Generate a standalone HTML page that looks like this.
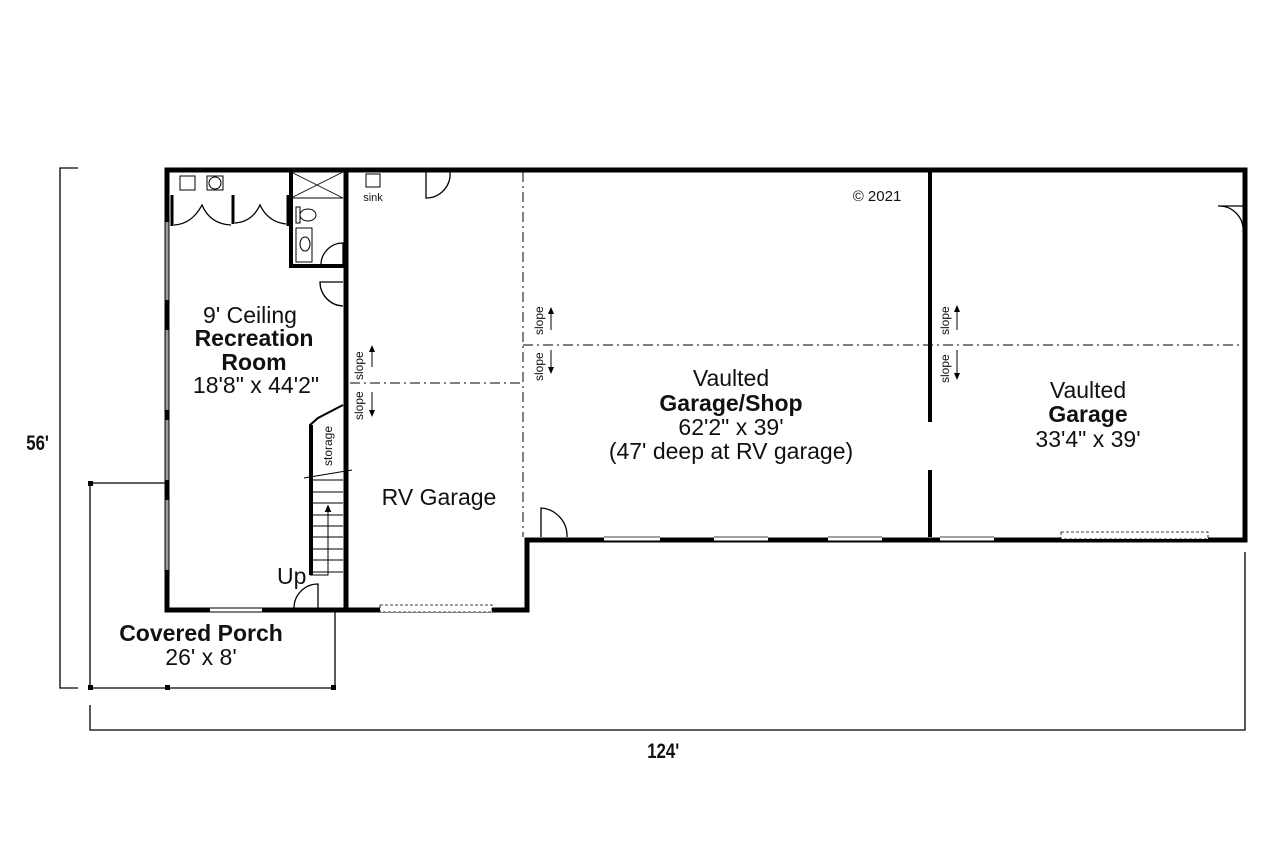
<!DOCTYPE html>
<html><head><meta charset="utf-8"><style>
html,body{margin:0;padding:0;background:#fff;}
svg{display:block;}
text{font-family:"Liberation Sans",sans-serif;fill:#111;}
</style></head><body>
<svg width="1280" height="853" viewBox="0 0 1280 853" xmlns="http://www.w3.org/2000/svg">
<g stroke="#000" fill="none">
<path d="M78 168 H60 V688 H78" stroke-width="1.3"/>
<path d="M90 705 V730 H1245 V552" stroke-width="1.3"/>
<path d="M90 483 H165 M90 483 V688 H335 V612" stroke-width="1.3"/>
<path d="M167 170 H1245 V540 H527 V610 H167 Z" stroke-width="5"/>
<path d="M346 170 V610" stroke-width="5"/>
<path d="M930 170 V422 M930 470 V537" stroke-width="4"/>
<path d="M291 170 V266 H346" stroke-width="4"/>
<path d="M291 198 H343" stroke-width="1"/>
<path d="M291 172 L343 198 M343 172 L291 198" stroke-width="0.8"/>
<path d="M523 172 V537" stroke-width="1" stroke-dasharray="10,4,2,4"/>
<path d="M350 383 H523" stroke-width="1" stroke-dasharray="10,4,2,4"/>
<path d="M523 345 H1243" stroke-width="1" stroke-dasharray="10,4,2,4"/>
<g stroke="#fff" stroke-width="3">
<path d="M210 610 H262 M604 539 H660 M714 539 H768 M828 539 H882 M940 539 H994"/>
</g>
<path d="M210 608 H262 M210 612 H262 M604 537 H660 M604 541 H660 M714 537 H768 M714 541 H768 M828 537 H882 M828 541 H882 M940 537 H994 M940 541 H994" stroke-width="0.8"/>
<rect x="380" y="605" width="112" height="7" fill="#fff" stroke-width="0.8" stroke-dasharray="3,2"/>
<rect x="1061" y="532" width="147" height="7" fill="#fff" stroke-width="0.8" stroke-dasharray="3,2"/>
<g stroke="#999" stroke-width="3"><path d="M167 222 V300 M167 330 V410 M167 420 V480 M167 500 V570"/></g>
<g stroke-width="1.3">
<path d="M426 172 V198 A24 24 0 0 0 450 172"/>
<path d="M343 282 H320 A24 24 0 0 0 343 306"/>
<path d="M318 610 V584 A24 24 0 0 0 294 608"/>
<path d="M541 537 V508 A28 28 0 0 1 567 537"/>
<path d="M1243 206 H1218 A24 24 0 0 1 1243 232"/>
<path d="M343 266 V243 A22 22 0 0 0 321 266"/>
</g>
<g stroke-width="3"><path d="M172 195 V226 M233 195 V224 M288 195 V226"/></g>
<g stroke-width="1.3">
<path d="M174 225 Q192 224 202 205 Q210 224 231 225"/>
<path d="M235 223 Q252 222 260 205 Q268 222 286 224"/>
</g>
<rect x="180" y="176" width="15" height="14" stroke-width="1"/>
<rect x="207" y="176" width="16" height="14" stroke-width="1"/>
<circle cx="215" cy="183" r="6" stroke-width="1"/>
<rect x="366" y="174" width="14" height="13" stroke-width="1"/>
<rect x="296" y="207" width="4" height="16" stroke-width="1"/>
<ellipse cx="308" cy="215" rx="8" ry="6" stroke-width="1"/>
<rect x="296" y="228" width="16" height="34" stroke-width="1"/>
<ellipse cx="305" cy="244" rx="5" ry="7" stroke-width="1"/>
<path d="M310 575 V425 L318 418 L343 405 M312 425 V575" stroke-width="2"/>
<path d="M304 478 L352 470" stroke-width="1"/>
<g stroke-width="1"><path d="M312 480 H343 M312 492 H343 M312 503 H343 M312 515 H343 M312 526 H343 M312 537 H343 M312 549 H343 M312 560 H343 M312 572 H343"/></g>
<path d="M328 508 V575 H310" stroke-width="1"/>
<path d="M325 512 L328 505 L331 512" fill="#000" stroke-width="0.5"/>
<g stroke-width="1">
<path d="M372 347 V367 M372 392 V415 M551 308 V330 M551 350 V372 M957 306 V330 M957 350 V378"/>
</g>
<g fill="#000" stroke="none">
<path d="M369 352 L372 345 L375 352 Z M369 410 L372 417 L375 410 Z M548 314 L551 307 L554 314 Z M548 367 L551 374 L554 367 Z M954 312 L957 305 L960 312 Z M954 373 L957 380 L960 373 Z"/>
<rect x="88" y="481" width="5" height="5"/><rect x="88" y="685" width="5" height="5"/><rect x="165" y="685" width="5" height="5"/><rect x="331" y="685" width="5" height="5"/>
</g>
</g>
<g font-size="23">
<text x="250" y="323" text-anchor="middle">9' Ceiling</text>
<text x="254" y="346" font-weight="bold" text-anchor="middle">Recreation</text>
<text x="254" y="370" font-weight="bold" text-anchor="middle">Room</text>
<text x="256" y="393" text-anchor="middle">18'8" x 44'2"</text>
<text x="439" y="505" text-anchor="middle">RV Garage</text>
<text x="731" y="386" text-anchor="middle">Vaulted</text>
<text x="731" y="411" font-weight="bold" text-anchor="middle">Garage/Shop</text>
<text x="731" y="435" text-anchor="middle">62'2" x 39'</text>
<text x="731" y="459" text-anchor="middle">(47' deep at RV garage)</text>
<text x="1088" y="398" text-anchor="middle">Vaulted</text>
<text x="1088" y="422" font-weight="bold" text-anchor="middle">Garage</text>
<text x="1088" y="447" text-anchor="middle">33'4" x 39'</text>
<text x="201" y="641" font-weight="bold" text-anchor="middle">Covered Porch</text>
<text x="201" y="665" text-anchor="middle">26' x 8'</text>
<text x="277" y="584">Up</text>
</g>
<text x="877" y="201" font-size="15" text-anchor="middle">© 2021</text>
<text x="373" y="201" font-size="11" text-anchor="middle">sink</text>
<text x="38" y="450" font-size="21" font-weight="bold" text-anchor="middle" transform="scale(0.8,1) translate(9,0)">56'</text>
<text x="829" y="758" font-size="21" font-weight="bold" text-anchor="middle" transform="scale(0.8,1)">124'</text>
<g font-size="12">
<text transform="translate(332,466) rotate(-90)">storage</text>
<text transform="translate(363,380) rotate(-90)">slope</text>
<text transform="translate(363,420) rotate(-90)">slope</text>
<text transform="translate(543,335) rotate(-90)">slope</text>
<text transform="translate(543,381) rotate(-90)">slope</text>
<text transform="translate(949,335) rotate(-90)">slope</text>
<text transform="translate(949,383) rotate(-90)">slope</text>
</g>
</svg>
</body></html>
